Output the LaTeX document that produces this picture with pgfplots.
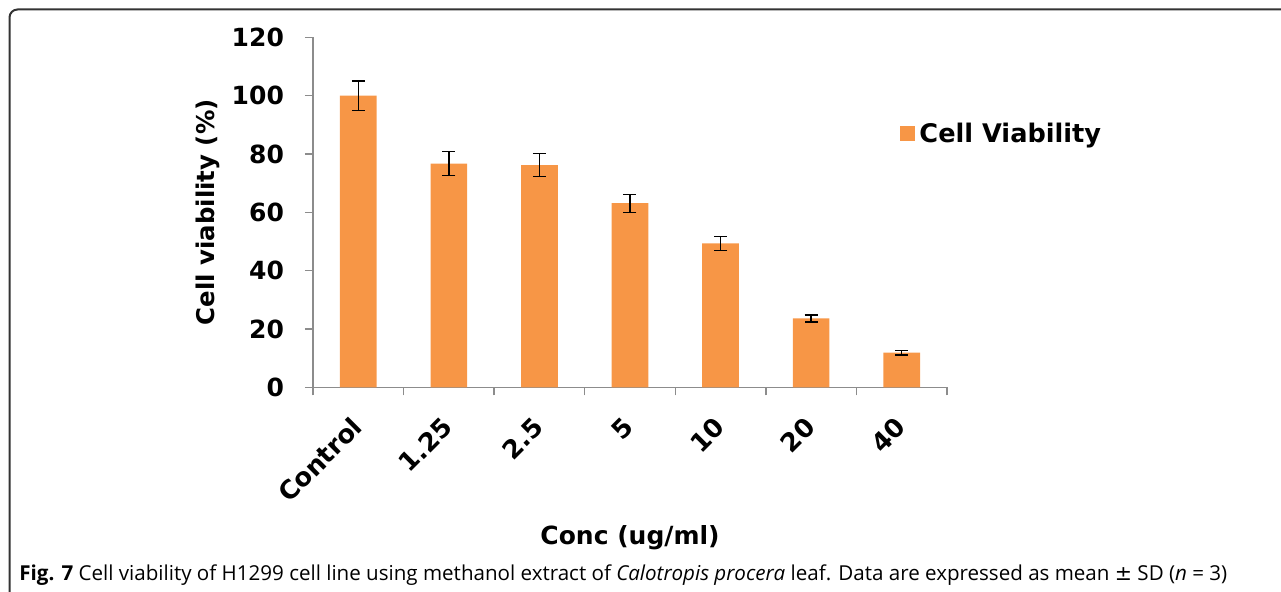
\documentclass[border=0pt]{standalone}
\usepackage{pgfplots}
\pgfplotsset{compat=1.18}
\usepackage{fontspec}
\setmainfont{DejaVu Sans}
\newfontfamily\capfont{Open Sans}
\definecolor{barorange}{HTML}{F79646}
\definecolor{axgray}{HTML}{8C8C8C}
\pgfplotstableread{
x y e
0 100.0 5.0
1 76.7 4.1
2 76.2 3.9
3 63.1 3.1
4 49.3 2.5
5 23.6 1.2
6 11.9 0.8
}\viab
\begin{document}
\begin{tikzpicture}[x=0.5pt,y=0.5pt]
\useasboundingbox (0,0) rectangle (1281,592);
\begin{scope}
\clip (0,0) rectangle (1281,592);
\draw[line width=1pt, color=black!80, rounded corners=4pt] (9.5,-20) -- (9.5,582.5) -- (1300,582.5);
\end{scope}
\begin{axis}[
  at={(156.5pt,102.35pt)}, anchor=south west,
  scale only axis, width=317pt, height=175pt,
  xmin=-0.5, xmax=6.5, ymin=0, ymax=120,
  ytick={0,20,...,120},
  xtick={-0.5,0.5,...,6.5}, xticklabels={},
  extra x ticks={0,1,2,3,4,5,6},
  extra x tick labels={Control,1.25,2.5,5,10,20,40},
  extra x tick style={major tick length=0pt, tick style={draw=none},
     xticklabel style={rotate=45, anchor=east, xshift=-9.2pt, yshift=-12.1pt, font=\fontsize{12.8pt}{14pt}\selectfont\bfseries}},
  axis x line*=bottom, axis y line*=left,
  axis line style={-, color=axgray, line width=0.65pt},
  tick style={color=axgray, line width=0.65pt},
  tick align=outside, major tick length=4pt,
  /pgf/number format/assume math mode=true,
  yticklabel style={xshift=-7pt, font=\fontsize{12.5pt}{15pt}\selectfont\bfseries},
  ylabel={Cell viability (\%)},
  ylabel style={at={(axis description cs:-0.166,0.5)}, anchor=center, font=\fontsize{12.2pt}{15pt}\selectfont\bfseries},
  xlabel={Conc (ug/ml)},
  xlabel style={at={(axis description cs:0.5,-0.43)}, anchor=center, font=\fontsize{12.5pt}{15pt}\selectfont\bfseries},
  ybar, bar width=18.35pt,
  legend style={draw=none, fill=none, at={(axis description cs:0.926,0.724)}, anchor=west, inner sep=0pt,
     font=\fontsize{12.8pt}{15pt}\selectfont\bfseries},
  legend image code/.code={\fill[barorange] (0pt,-3.75pt) rectangle (7.5pt,3.75pt);},
]
\addplot[fill=barorange, draw=none,
  error bars/.cd, y dir=both, y explicit,
  error bar style={line width=0.7pt, black},
  error mark options={rotate=90, mark size=3.25pt, line width=0.7pt, black}]
  table[x=x, y=y, y error=e] {\viab};
\addlegendentry{Cell Viability}
\end{axis}
\node[anchor=west, inner sep=0pt, font=\capfont\fontsize{10.28pt}{11pt}\selectfont] at (19,17) {\textbf{Fig. 7} Cell viability of H1299 cell line using methanol extract of \textit{Calotropis procera} leaf. Data are expressed as mean {\fontspec{DejaVu Sans}±} SD (\textit{n} = 3)};
\end{tikzpicture}
\end{document}
